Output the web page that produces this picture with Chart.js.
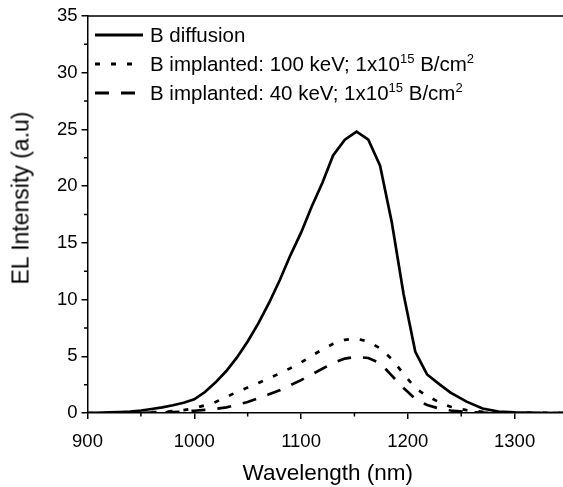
<!DOCTYPE html>
<html>
<head>
<meta charset="utf-8">
<script src="https://cdn.jsdelivr.net/npm/chart.js@4/dist/chart.umd.min.js"></script>
<style>
  html, body { margin: 0; padding: 0; overflow: hidden; background: #fff; }
  #wrap { position: relative; width: 570px; height: 487px; }
  #legend { position: absolute; left: 95px; top: 20px; font-family: "Liberation Sans", Arial, sans-serif; font-size: 20.5px; color: #000; }
  .row { height: 29px; display: flex; align-items: center; white-space: nowrap; }
  .row svg { margin-right: 7px; }
  sup { font-size: 13px; vertical-align: 0; position: relative; top: -8px; }
  #ytitle { position: absolute; left: 21px; top: 198px; transform: translate(-50%, -50%) rotate(-90deg);
            font-family: "Liberation Sans", Arial, sans-serif; font-size: 23px; color: #000; white-space: nowrap; }
</style>
</head>
<body>
<div id="wrap">
  <canvas id="chart" width="570" height="487"></canvas>
  <div id="legend"></div>
  <div id="ytitle">EL Intensity (a.u)</div>
</div>
<script>
// data
const wavelength = [900, 910, 920, 930, 940, 950, 960, 970, 980, 990, 1000, 1010, 1020, 1030, 1040, 1050, 1060, 1070, 1080, 1090,
                    1100, 1110, 1120, 1130, 1141, 1152, 1163, 1174, 1185, 1196, 1207, 1218, 1230, 1240, 1255, 1270, 1285, 1300, 1320, 1350];
const diffusion = [0, 0.02, 0.05, 0.08, 0.13, 0.22, 0.35, 0.5, 0.68, 0.9, 1.2, 1.85, 2.7, 3.7, 4.9, 6.3, 7.9, 9.7, 11.7, 13.9,
                   15.9, 18.2, 20.3, 22.7, 24.1, 24.8, 24.1, 21.8, 16.8, 10.5, 5.4, 3.4, 2.5, 1.8, 1.0, 0.4, 0.12, 0.05, 0.02, 0];
const implanted100 = [0, 0, 0, 0.01, 0.02, 0.04, 0.07, 0.1, 0.16, 0.25, 0.42, 0.68, 0.97, 1.42, 1.85, 2.25, 2.65, 3.05, 3.5, 3.95,
                      4.45, 5.05, 5.6, 6.1, 6.45, 6.55, 6.3, 5.7, 4.75, 3.45, 2.2, 1.5, 0.92, 0.55, 0.25, 0.1, 0.04, 0.02, 0.01, 0];
const implanted40 = [0, 0, 0, 0, 0.01, 0.02, 0.03, 0.05, 0.08, 0.13, 0.2, 0.28, 0.37, 0.5, 0.72, 0.97, 1.3, 1.65, 2.0, 2.45,
                     2.9, 3.4, 3.9, 4.4, 4.8, 4.95, 4.85, 4.4, 3.3, 2.2, 1.25, 0.7, 0.38, 0.22, 0.08, 0.03, 0.01, 0, 0, 0];

const xTicks = [900, 1000, 1100, 1200, 1300];
const xMinor = [950, 1050, 1150, 1250, 1350];
const yTicks = [0, 5, 10, 15, 20, 25, 30, 35];
const yMinor = [2.5, 7.5, 12.5, 17.5, 22.5, 27.5, 32.5];

const series = [
  { label: 'B diffusion', html: 'B diffusion', values: diffusion, dash: [] },
  { label: 'B implanted: 100 keV; 1x10^15 B/cm^2', html: 'B implanted: 100 keV; 1x10<sup>15</sup> B/cm<sup>2</sup>', values: implanted100, dash: [5, 11] },
  { label: 'B implanted: 40 keV; 1x10^15 B/cm^2', html: 'B implanted: 40 keV; 1x10<sup>15</sup> B/cm<sup>2</sup>', values: implanted40, dash: [14, 12] }
];

const font = '"Liberation Sans", Arial, sans-serif';

// short minor ticks and the top frame line
const extras = {
  id: 'extras',
  afterDraw(chart) {
    const { ctx, chartArea, scales } = chart;
    ctx.save();
    ctx.strokeStyle = '#000';
    ctx.lineWidth = 1.5;
    ctx.beginPath();
    xMinor.forEach(v => {
      const px = scales.x.getPixelForValue(v);
      ctx.moveTo(px, chartArea.bottom);
      ctx.lineTo(px, chartArea.bottom + 3.5);
    });
    yMinor.forEach(v => {
      const py = scales.y.getPixelForValue(v);
      ctx.moveTo(chartArea.left, py);
      ctx.lineTo(chartArea.left - 3.5, py);
    });
    ctx.moveTo(chartArea.left, chartArea.top);
    ctx.lineTo(chartArea.right + 2, chartArea.top);
    ctx.stroke();
    ctx.restore();
  }
};

new Chart(document.getElementById('chart'), {
  type: 'line',
  data: {
    datasets: series.map(s => ({
      label: s.label,
      data: s.values.map((v, i) => ({ x: wavelength[i], y: v })),
      borderColor: '#000',
      borderWidth: 2.7,
      borderDash: s.dash,
      pointRadius: 0,
      tension: 0,
      fill: false
    }))
  },
  options: {
    responsive: false,
    animation: false,
    layout: { padding: { top: 16, right: 2, left: 0, bottom: 0 } },
    plugins: { legend: { display: false }, tooltip: { enabled: false } },
    scales: {
      x: {
        type: 'linear', min: 900, max: 1350,
        afterBuildTicks: s => { s.ticks = xTicks.map(v => ({ value: v })); },
        afterFit: s => { s.height = 74; },
        grid: { drawOnChartArea: false, tickLength: 6, color: '#000', lineWidth: 1.5 },
        border: { color: '#000', width: 1.5 },
        ticks: { color: '#000', font: { family: font, size: 18.5 }, padding: 12, maxRotation: 0, callback: v => String(v) },
        title: { display: true, text: 'Wavelength (nm)', color: '#000', font: { family: font, size: 22.5 }, padding: { top: 0, bottom: 0 } }
      },
      y: {
        type: 'linear', min: 0, max: 35,
        afterBuildTicks: s => { s.ticks = yTicks.map(v => ({ value: v })); },
        afterFit: s => { s.width = 87.5; },
        grid: { drawOnChartArea: false, tickLength: 6, color: '#000', lineWidth: 1.5 },
        border: { color: '#000', width: 1.5 },
        ticks: { color: '#000', font: { family: font, size: 18.5 }, padding: 4, callback: v => String(v) },
        title: { display: false }
      }
    }
  },
  plugins: [extras]
});

// legend with superscripts
const legend = document.getElementById('legend');
series.forEach(s => {
  const row = document.createElement('div');
  row.className = 'row';
  row.innerHTML = `<svg width="48" height="6"><line x1="0" y1="3" x2="48" y2="3" stroke="#000" stroke-width="2.8" stroke-dasharray="${s.dash.join(' ')}"/></svg><span>${s.html}</span>`;
  legend.appendChild(row);
});
</script>
</body>
</html>
